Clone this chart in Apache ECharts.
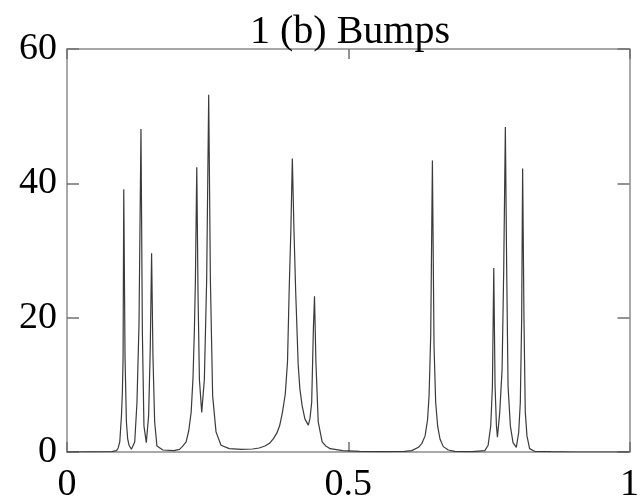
<!DOCTYPE html>
<html>
<head>
<meta charset="utf-8">
<script src="https://cdn.jsdelivr.net/npm/echarts@6/dist/echarts.min.js"></script>
<style>
html,body{margin:0;padding:0;background:#fff;}
#chart{width:642px;height:504px;}
</style>
</head>
<body>
<div id="chart"></div>
<script>
var titleText = '1 (b) Bumps';
var xTicks = [0, 0.5, 1];
var yTicks = [0, 20, 40, 60];

var xs = [0, 0.08, 0.088, 0.091, 0.0938, 0.0968, 0.0985, 0.0997, 0.1009, 0.1032, 0.1056, 0.1078, 0.1103, 0.1145,
  0.1204, 0.1244, 0.128, 0.1315, 0.134, 0.1368, 0.141, 0.1451, 0.148, 0.1504, 0.1528, 0.1558,
  0.1599, 0.1705, 0.19, 0.2, 0.205, 0.2118, 0.2165, 0.2207, 0.224, 0.2265, 0.2283, 0.2307, 0.233, 0.2354, 0.2395,
  0.2442, 0.2483, 0.2519, 0.2549, 0.2589, 0.2649, 0.2738, 0.2885, 0.31, 0.33, 0.3416, 0.352, 0.36, 0.367, 0.373, 0.378, 0.383,
  0.388, 0.392, 0.395, 0.398, 0.4006, 0.4035, 0.4065, 0.411, 0.414, 0.418, 0.423, 0.429, 0.432, 0.435, 0.438, 0.44, 0.4425,
  0.4466, 0.4536, 0.46, 0.468, 0.49, 0.52, 0.56, 0.6, 0.613, 0.6248, 0.631, 0.6366, 0.641, 0.6437, 0.6466, 0.6496,
  0.6525, 0.6554, 0.659, 0.6632, 0.669, 0.6779, 0.6897, 0.72, 0.7428, 0.7487, 0.7533, 0.7563, 0.7587, 0.761,
  0.7634, 0.7652, 0.7693, 0.7735, 0.7764, 0.7793, 0.7817, 0.7841, 0.7882, 0.7929, 0.7988, 0.803,
  0.8059, 0.8083, 0.81, 0.8124, 0.8147, 0.8177, 0.8224, 0.8313, 0.86, 0.9, 1];

var ys = [0, 0.05, 0.2, 0.6, 1.5, 5.4, 9.0, 14, 39.1, 14, 4.5, 2.0, 1.0, 0.4,
  1.5, 7.4, 19, 48.1, 17.8, 3.9, 1.4, 5.4, 15.3, 29.6, 14.3, 4.5,
  0.9, 0.3, 0.2, 0.4, 0.8, 1.5, 3.2, 5.9, 11, 18.3, 25.7, 42.4, 23.2, 10.8, 5.9,
  10.8, 25.7, 53.2, 25.7, 8.4, 3.0, 1.0, 0.5, 0.4, 0.45, 0.6, 0.9, 1.3, 2.0, 2.8, 3.9, 5.9,
  8.6, 13.4, 24.2, 33.1, 43.7, 33, 24, 13, 9.4, 6.9, 4.9, 4.0, 5.0, 7.4, 18.3, 23.2, 13.4,
  4.5, 1.5, 0.9, 0.5, 0.2, 0.1, 0.05, 0.1, 0.2, 0.7, 1.3, 2.4, 4.8, 8.4, 17.3, 43.4,
  15.8, 7.4, 3.8, 1.9, 0.8, 0.3, 0.1, 0.05, 0.2, 1.0, 3.9, 9.8, 27.4, 9.8,
  4.0, 2.2, 5.9, 12.3, 27.2, 48.4, 27, 9.8, 3.9, 1.4, 0.7, 2.9,
  7.4, 19.8, 42.2, 19.8, 6, 2.4, 0.5, 0.1, 0.05, 0, 0];

var FONT = 'Liberation Serif';
var chart = echarts.init(document.getElementById('chart'), null, {renderer: 'canvas'});

var axisLineStyle = {color: '#8c8c8c', width: 1.5};
var tickStyle = {color: '#707070', width: 1.5};

var data = xs.map(function (x, i) { return [x, ys[i]]; });

chart.setOption({
  animation: false,
  backgroundColor: '#ffffff',
  title: {
    text: titleText,
    left: 250,
    top: 12,
    padding: 0,
    textStyle: {fontFamily: FONT, fontSize: 40, fontWeight: 'normal', color: '#000'}
  },
  grid: {left: 67, right: 10, top: 49, bottom: 51, containLabel: false},
  xAxis: [{
    type: 'value', min: 0, max: 1, interval: 0.5, position: 'bottom',
    axisLine: {show: true, onZero: false, lineStyle: axisLineStyle},
    axisTick: {show: true, inside: true, length: 10, lineStyle: tickStyle},
    axisLabel: {show: true, margin: 14, fontFamily: FONT, fontSize: 38, color: '#000',
      formatter: function (v) { return xTicks.indexOf(v) >= 0 ? String(v) : ''; }},
    splitLine: {show: false}
  }, {
    type: 'value', min: 0, max: 1, interval: 0.5, position: 'top',
    axisLine: {show: true, onZero: false, lineStyle: axisLineStyle},
    axisTick: {show: true, inside: true, length: 10, lineStyle: tickStyle},
    axisLabel: {show: false},
    splitLine: {show: false}
  }],
  yAxis: [{
    type: 'value', min: 0, max: 60, interval: 20, position: 'left',
    axisLine: {show: true, onZero: false, lineStyle: axisLineStyle},
    axisTick: {show: true, inside: true, length: 12, lineStyle: tickStyle},
    axisLabel: {show: true, margin: 10, fontFamily: FONT, fontSize: 38, color: '#000',
      formatter: function (v) { return yTicks.indexOf(v) >= 0 ? String(v) : ''; }},
    splitLine: {show: false}
  }, {
    type: 'value', min: 0, max: 60, interval: 20, position: 'right',
    axisLine: {show: true, onZero: false, lineStyle: axisLineStyle},
    axisTick: {show: true, inside: true, length: 12, lineStyle: tickStyle},
    axisLabel: {show: false},
    splitLine: {show: false}
  }],
  series: [{
    type: 'line',
    xAxisIndex: 0,
    yAxisIndex: 0,
    data: data,
    showSymbol: false,
    symbol: 'none',
    smooth: false,
    lineStyle: {color: '#3a3a3a', width: 1.2},
    z: 3
  }]
});
</script>
</body>
</html>
